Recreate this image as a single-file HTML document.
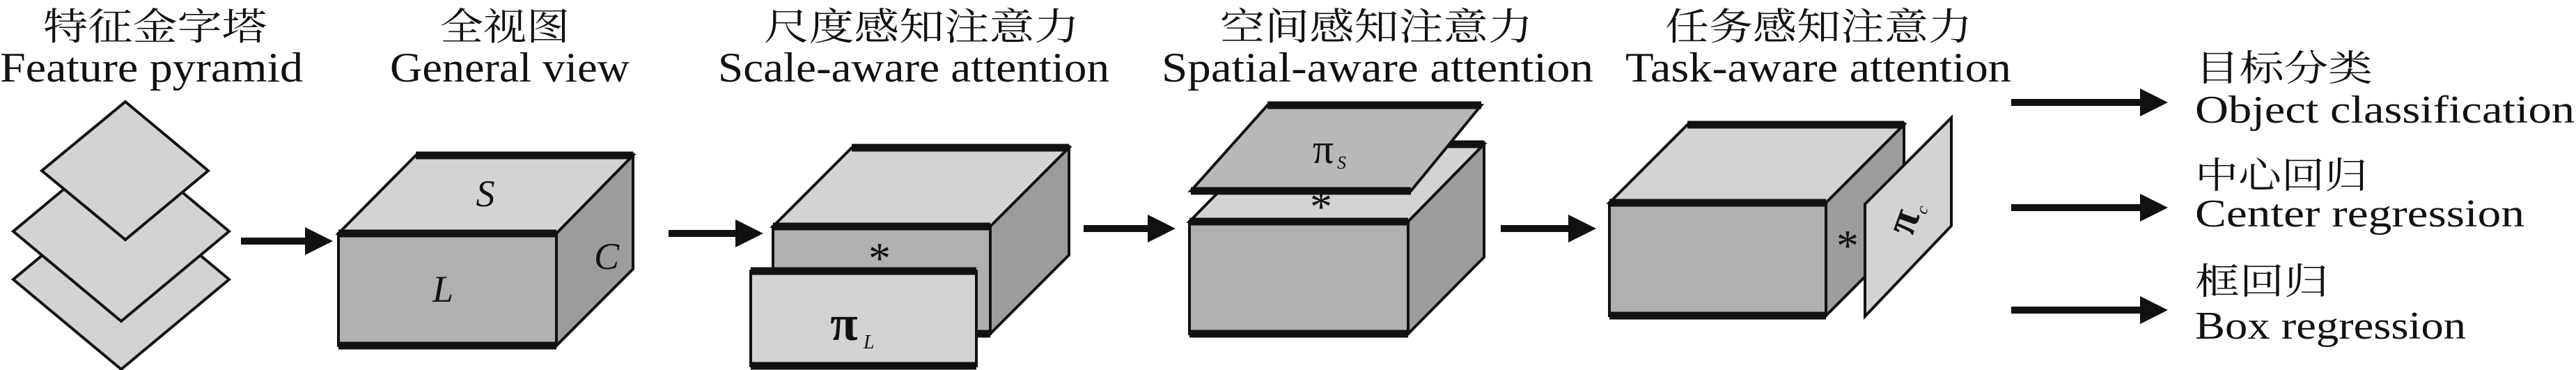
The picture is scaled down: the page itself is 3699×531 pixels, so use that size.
<!DOCTYPE html>
<html><head><meta charset="utf-8"><style>html,body{margin:0;padding:0;background:#fff}svg{display:block}</style></head>
<body>
<svg width="3699" height="531" viewBox="0 0 3699 531" xmlns="http://www.w3.org/2000/svg">
<defs>
<marker id="ah" markerWidth="4" markerHeight="4" refX="0.5" refY="2" orient="auto" markerUnits="strokeWidth"><path d="M0,0 L4,2 L0,4 Z" fill="#111"/></marker>
</defs>
<g font-family="'Liberation Serif','Noto Serif CJK SC',serif" fill="#111">
<g font-size="54" font-family="'Liberation Serif','Noto Serif CJK SC','Noto Sans CJK SC',serif">
<text x="62" y="57" textLength="321" lengthAdjust="spacingAndGlyphs">特征金字塔</text>
<text x="632" y="57" textLength="186" lengthAdjust="spacingAndGlyphs">全视图</text>
<text x="1097" y="57" textLength="453" lengthAdjust="spacingAndGlyphs">尺度感知注意力</text>
<text x="1752" y="57" textLength="449" lengthAdjust="spacingAndGlyphs">空间感知注意力</text>
<text x="2391" y="57" textLength="441" lengthAdjust="spacingAndGlyphs">任务感知注意力</text>
</g>
<g font-size="60">
<text x="0" y="117" textLength="435" lengthAdjust="spacingAndGlyphs">Feature pyramid</text>
<text x="560" y="117" textLength="344" lengthAdjust="spacingAndGlyphs">General view</text>
<text x="1031" y="117" textLength="562" lengthAdjust="spacingAndGlyphs">Scale-aware attention</text>
<text x="1668" y="117" textLength="620" lengthAdjust="spacingAndGlyphs">Spatial-aware attention</text>
<text x="2334" y="117" textLength="554" lengthAdjust="spacingAndGlyphs">Task-aware attention</text>
</g>
<g font-size="52" font-family="'Liberation Serif','Noto Serif CJK SC','Noto Sans CJK SC',serif">
<text x="3152" y="116" textLength="255" lengthAdjust="spacingAndGlyphs">目标分类</text>
<text x="3152" y="270" textLength="248" lengthAdjust="spacingAndGlyphs">中心回归</text>
<text x="3152" y="422" textLength="192" lengthAdjust="spacingAndGlyphs">框回归</text>
</g>
<g font-size="56">
<text x="3152" y="176" textLength="545" lengthAdjust="spacingAndGlyphs">Object classification</text>
<text x="3152" y="325" textLength="473" lengthAdjust="spacingAndGlyphs">Center regression</text>
<text x="3152" y="486" textLength="389" lengthAdjust="spacingAndGlyphs">Box regression</text>
</g>
</g>

<g stroke="#111" stroke-width="4" stroke-linejoin="miter">
<polygon points="174,272 329,401 174,530 19,401" fill="#d3d3d3"/>
<polygon points="174,203 329,332 174,461 19,332" fill="#d3d3d3"/>
<polygon points="180,146 299,245 180,344 60,245" fill="#d3d3d3"/>

<polygon points="486,335 799,335 909,223 597,223" fill="#d3d3d3"/>
<polygon points="799,335 909,223 909,386 799,496" fill="#9c9c9c"/>
<rect x="486" y="335" width="313" height="161" fill="#b0b0b0"/>
<g stroke-width="11"><line x1="486" y1="335" x2="799" y2="335"/><line x1="486" y1="496" x2="799" y2="496"/><line x1="597" y1="223" x2="909" y2="223"/></g>

<polygon points="1110,325 1422,325 1535,212 1223,212" fill="#d3d3d3"/>
<polygon points="1422,325 1535,212 1535,366 1422,479" fill="#9c9c9c"/>
<rect x="1110" y="325" width="312" height="154" fill="#b0b0b0"/>
<g stroke-width="11"><line x1="1110" y1="325" x2="1422" y2="325"/><line x1="1402" y1="479" x2="1422" y2="479"/><line x1="1223" y1="212" x2="1535" y2="212"/></g>
<rect x="1078" y="389" width="324" height="136" fill="#d3d3d3"/>
<g stroke-width="11"><line x1="1078" y1="389" x2="1402" y2="389"/><line x1="1078" y1="525" x2="1402" y2="525"/></g>

<polygon points="1708,318 2022,318 2131,207 1817,207" fill="#d3d3d3"/>
<polygon points="2022,318 2131,207 2131,369 2022,479" fill="#9c9c9c"/>
<rect x="1708" y="318" width="314" height="161" fill="#b0b0b0"/>
<g stroke-width="11"><line x1="1708" y1="318" x2="2022" y2="318"/><line x1="1708" y1="479" x2="2022" y2="479"/><line x1="1817" y1="207" x2="2131" y2="207"/></g>
<polygon points="1820,151 2127,151 2026,274 1710,274" fill="#b8b8b8"/>
<g stroke-width="11"><line x1="1820" y1="151" x2="2127" y2="151"/><line x1="1710" y1="274" x2="2026" y2="274"/></g>

<polygon points="2311,291 2622,291 2734,179 2423,179" fill="#d3d3d3"/>
<polygon points="2622,291 2734,179 2734,341 2622,453" fill="#9c9c9c"/>
<rect x="2311" y="291" width="311" height="162" fill="#b0b0b0"/>
<g stroke-width="11"><line x1="2311" y1="291" x2="2622" y2="291"/><line x1="2311" y1="453" x2="2622" y2="453"/><line x1="2423" y1="179" x2="2734" y2="179"/></g>
<polygon points="2678,293 2802,169 2802,324 2678,454" fill="#d3d3d3"/>

<g stroke-width="10" fill="none">
<line x1="346" y1="346" x2="443" y2="346" marker-end="url(#ah)"/>
<line x1="960" y1="335" x2="1061" y2="335" marker-end="url(#ah)"/>
<line x1="1556" y1="328" x2="1653" y2="328" marker-end="url(#ah)"/>
<line x1="2155" y1="328" x2="2257" y2="328" marker-end="url(#ah)"/>
<line x1="2888" y1="147" x2="3078" y2="147" marker-end="url(#ah)"/>
<line x1="2888" y1="298" x2="3078" y2="298" marker-end="url(#ah)"/>
<line x1="2888" y1="445" x2="3078" y2="445" marker-end="url(#ah)"/>
</g>
</g>

<g font-family="'Liberation Serif',serif" fill="#111" font-style="italic" font-size="54">
<text x="697" y="296" text-anchor="middle">S</text>
<text x="871" y="386" text-anchor="middle">C</text>
<text x="636" y="433" text-anchor="middle">L</text>
</g>
<g font-family="'Liberation Serif',serif" fill="#111" font-size="64">
<text x="1263" y="392" text-anchor="middle">*</text>
<text x="1897" y="318" text-anchor="middle">*</text>
<text x="2653" y="374" text-anchor="middle">*</text>
<text x="1212" y="488" text-anchor="middle" font-size="72" font-weight="bold">π</text>
<text x="1240" y="500" font-size="28" font-style="italic">L</text>
<text x="1900" y="234" text-anchor="middle" font-size="60">π</text>
<text x="1920" y="242" font-size="26" font-style="italic">S</text>
<g transform="translate(2738,320) rotate(-70)">
<text x="0" y="14" text-anchor="middle" font-size="62" font-weight="bold">π</text>
<text x="20" y="22" font-size="24" font-style="italic">c</text>
</g>
</g>
</svg>
</body></html>
